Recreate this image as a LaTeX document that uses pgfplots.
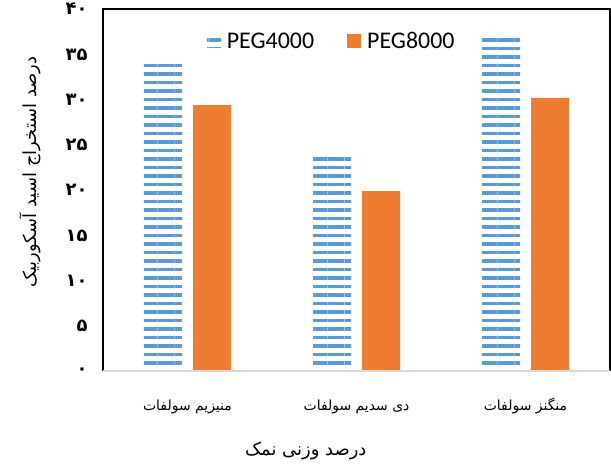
\documentclass[border=0pt]{standalone}
\usepackage{fontspec}
\usepackage{pgfplots}
\pgfplotsset{compat=1.18}
\usetikzlibrary{patterns.meta,calc}
\TeXXeTstate=1
\newfontfamily\arabicfont[Script=Arabic]{DejaVu Sans}
\newfontfamily\legfont{Carlito}
\definecolor{pegblue}{HTML}{5B9BD5}
\definecolor{pegorange}{HTML}{ED7D31}

\begin{document}
\begin{tikzpicture}
\begin{axis}[
  scale only axis, width=507bp, height=362bp,
  ybar=11bp, bar width=38bp,
  xmin=-0.5, xmax=2.5, ymin=0, ymax=40,
  xtick={0,1,2},
  xticklabels={{\beginR منیزیم سولفات\endR},{\beginR دی سدیم سولفات\endR},{\beginR منگنز سولفات\endR}},
  ytick={0,5,...,40},
  yticklabels={۰,۵,۱۰,۱۵,۲۰,۲۵,۳۰,۳۵,۴۰},
  major tick length=0,
  axis line style={draw=none},
  clip=false,
  xticklabel style={font=\arabicfont\fontsize{14}{17}\selectfont, text height=12bp, text depth=5bp, yshift=-24bp},
  yticklabel style={font=\arabicfont\bfseries\fontsize{18}{18}\selectfont, xshift=-12bp},
  xlabel={\beginR درصد وزنی نمک\endR},
  xlabel style={font=\arabicfont\fontsize{18}{18}\selectfont, at={(axis description cs:0.40,-0.22)}, anchor=center},
  ylabel={\beginR درصد استخراج اسید آسکوربیک\endR},
  ylabel style={font=\arabicfont\fontsize{18}{18}\selectfont, at={(axis description cs:-0.144,0.55)}, anchor=center},
  legend columns=2,
  legend style={draw=none, fill=none, font=\legfont\fontsize{24}{24}\selectfont,
    at={(axis description cs:0.451,0.912)}, anchor=center,
    /tikz/every odd column/.append style={column sep=4bp},
    /tikz/every even column/.append style={column sep=31bp}},
  legend image code/.code={\path[#1] (0bp,-7bp) rectangle (14bp,7bp);},
]
\addplot[draw=none, pattern={Lines[angle=0,distance=8.5bp,line width=3.4bp]}, pattern color=pegblue]
  coordinates {(0,34.3) (1,24.0) (2,37.1)};
\addplot[draw=none, fill=pegorange]
  coordinates {(0,29.4) (1,19.9) (2,30.2)};
\legend{PEG4000, PEG8000}
\draw[black, line width=1.6bp] (rel axis cs:0,0) |- (rel axis cs:1,1) -- (rel axis cs:1,0);
\draw[gray!30, line width=1.6bp] (rel axis cs:0,0) -- (rel axis cs:1,0);
\path ($(rel axis cs:0,0)+(-103bp,-94bp)$) rectangle ($(rel axis cs:1,1)+(1bp,9bp)$);
\end{axis}
\end{tikzpicture}
\end{document}
